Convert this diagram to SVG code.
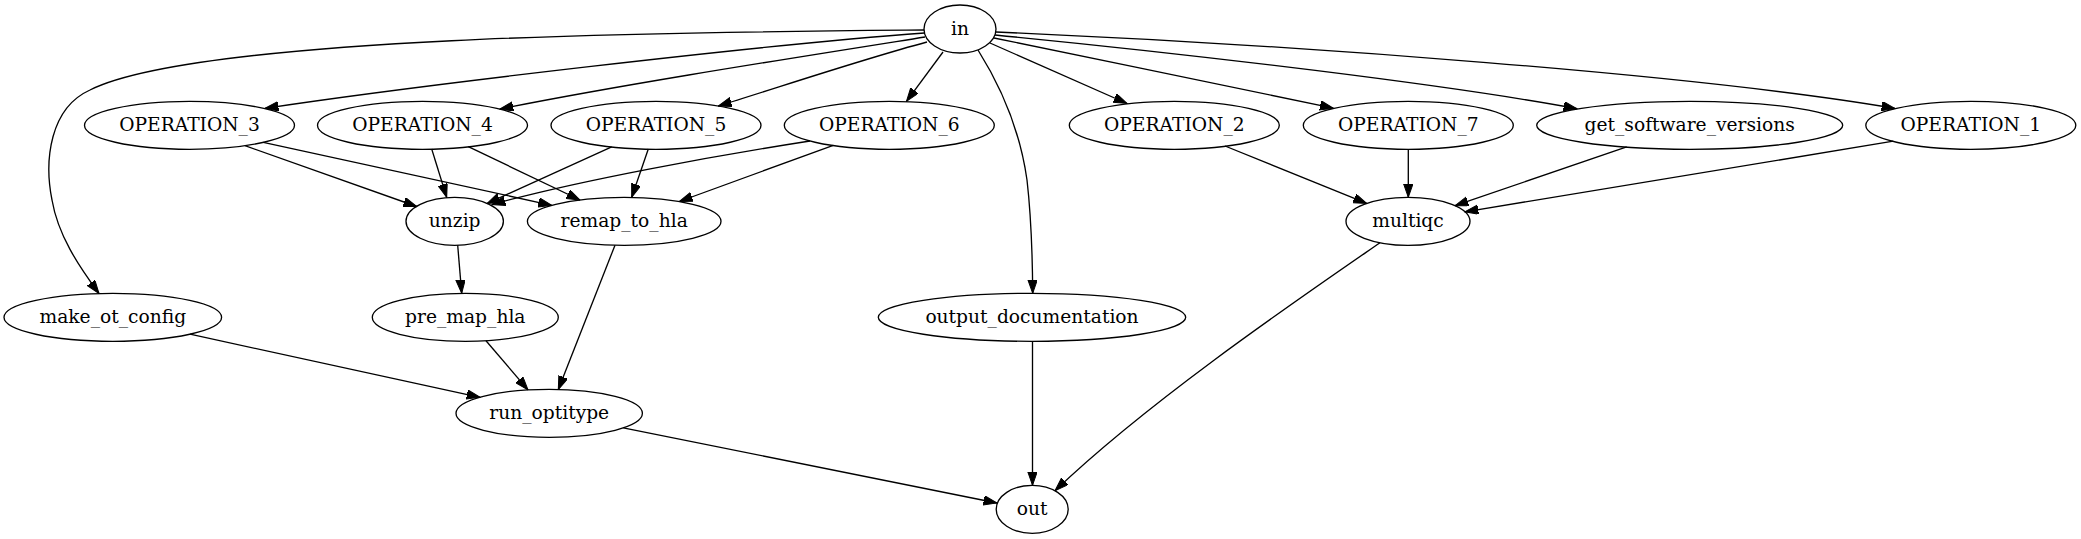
<svg xmlns="http://www.w3.org/2000/svg" width="2081" height="539" viewBox="0 0 2081 539">
<style>
.n ellipse{fill:none;stroke:#000;stroke-width:1.33}
.n text{font-family:"DejaVu Serif","Liberation Serif",serif;font-size:18.67px;text-anchor:middle;fill:#000}
.e path{fill:none;stroke:#000;stroke-width:1.33;marker-end:url(#ah)}
</style>
<defs>
<marker id="ah" markerUnits="userSpaceOnUse" markerWidth="14" markerHeight="10" refX="13.33" refY="4.67" orient="auto" viewBox="0 0 14 10">
<path d="M0,0 L13.33,4.67 L0,9.33 z" fill="#000" stroke="#000" stroke-width="1"/>
</marker>
</defs>
<rect width="2081" height="539" fill="#fff"/>
<g id="edges" class="e">
<path d="M924,30 C700,32 200,35 90,90 C50,108 44,160 52,200 C58,235 78,265 99,293.5"/>
<path d="M924.5,33 C760,45 420,85 265,108.3"/>
<path d="M925,37 C780,60 620,85 500,109"/>
<path d="M927,42 C860,60 780,87 718.3,106"/>
<path d="M943,52 L906.5,101.3"/>
<path d="M978,50 C1000,85 1020,130 1027,180 C1031,215 1032.5,260 1032.7,293.3"/>
<path d="M990,43 C1040,65 1090,87 1127,103.5"/>
<path d="M994,38 C1100,60 1250,90 1333.3,108.2"/>
<path d="M995,35 C1200,55 1450,85 1577,108.7"/>
<path d="M996,32 C1300,45 1700,75 1895,108.4"/>
<path d="M245,145.7 L416.7,206.5"/>
<path d="M263.3,142.3 L551.7,205.3"/>
<path d="M431.7,149 L446.7,197.4"/>
<path d="M468.3,146.7 L580,200"/>
<path d="M611.7,146.8 L487,203.5"/>
<path d="M648.3,149 L631.7,197.2"/>
<path d="M810,141 C720,155 580,180 492,204.5"/>
<path d="M833.3,145.3 L679.3,201.5"/>
<path d="M1225,146 L1366.7,203.4"/>
<path d="M1408.3,149 L1408.3,197.3"/>
<path d="M1626.7,146.9 L1455,205.7"/>
<path d="M1893.3,141.2 L1465,211.8"/>
<path d="M457.7,245.3 L461.7,293.3"/>
<path d="M615,245.2 L558.3,389.5"/>
<path d="M1380,242.7 C1300,298 1150,400 1055,490.7"/>
<path d="M190,334.2 L480,397.3"/>
<path d="M486,340.7 L528,389.9"/>
<path d="M1032.5,341.3 L1032.5,485.3"/>
<path d="M623.3,427.9 L997,503"/>
</g>
<g id="in" class="n"><ellipse cx="960" cy="29" rx="36" ry="24"/><text x="960" y="34.6">in</text></g>
<g id="OPERATION_3" class="n"><ellipse cx="189.5" cy="125.3" rx="105" ry="24"/><text x="189.5" y="130.9">OPERATION_3</text></g>
<g id="OPERATION_4" class="n"><ellipse cx="422.5" cy="125.3" rx="105" ry="24"/><text x="422.5" y="130.9">OPERATION_4</text></g>
<g id="OPERATION_5" class="n"><ellipse cx="656" cy="125.3" rx="105" ry="24"/><text x="656" y="130.9">OPERATION_5</text></g>
<g id="OPERATION_6" class="n"><ellipse cx="889.3" cy="125.3" rx="105" ry="24"/><text x="889.3" y="130.9">OPERATION_6</text></g>
<g id="OPERATION_2" class="n"><ellipse cx="1174.3" cy="125.3" rx="105" ry="24"/><text x="1174.3" y="130.9">OPERATION_2</text></g>
<g id="OPERATION_7" class="n"><ellipse cx="1408.3" cy="125.3" rx="105" ry="24"/><text x="1408.3" y="130.9">OPERATION_7</text></g>
<g id="get_software_versions" class="n"><ellipse cx="1689.7" cy="125.3" rx="153" ry="24"/><text x="1689.7" y="130.9">get_software_versions</text></g>
<g id="OPERATION_1" class="n"><ellipse cx="1970.8" cy="125.3" rx="105" ry="24"/><text x="1970.8" y="130.9">OPERATION_1</text></g>
<g id="unzip" class="n"><ellipse cx="454.7" cy="221.3" rx="48.7" ry="24"/><text x="454.7" y="226.9">unzip</text></g>
<g id="remap_to_hla" class="n"><ellipse cx="624.2" cy="221.3" rx="96.8" ry="24"/><text x="624.2" y="226.9">remap_to_hla</text></g>
<g id="multiqc" class="n"><ellipse cx="1408" cy="221.3" rx="62" ry="24"/><text x="1408" y="226.9">multiqc</text></g>
<g id="make_ot_config" class="n"><ellipse cx="112.8" cy="317.3" rx="108.8" ry="24"/><text x="112.8" y="322.9">make_ot_config</text></g>
<g id="pre_map_hla" class="n"><ellipse cx="465.3" cy="317.3" rx="93" ry="24"/><text x="465.3" y="322.9">pre_map_hla</text></g>
<g id="output_documentation" class="n"><ellipse cx="1032" cy="317.3" rx="153.7" ry="24"/><text x="1032" y="322.9">output_documentation</text></g>
<g id="run_optitype" class="n"><ellipse cx="549.2" cy="413.3" rx="93.2" ry="24"/><text x="549.2" y="418.9">run_optitype</text></g>
<g id="out" class="n"><ellipse cx="1032.2" cy="509.3" rx="36" ry="24"/><text x="1032.2" y="514.9">out</text></g>
</svg>
